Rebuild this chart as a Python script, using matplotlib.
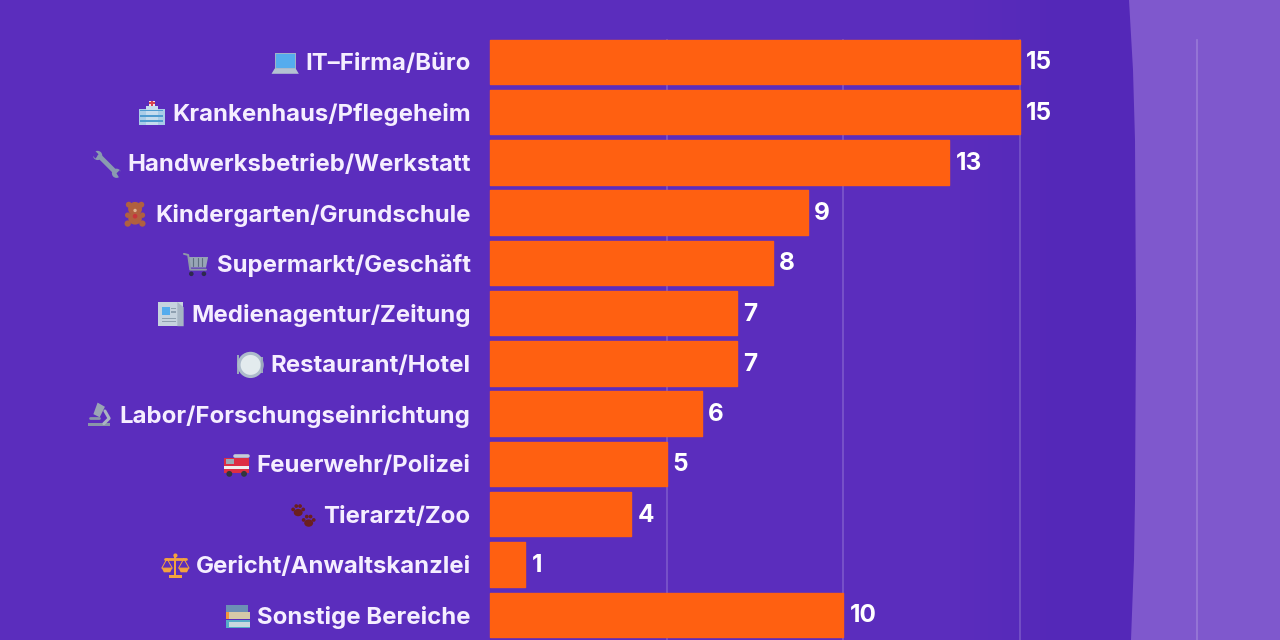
import matplotlib
matplotlib.use("Agg")
import matplotlib.pyplot as plt
import numpy as np
from matplotlib.patches import Polygon, Rectangle, Circle, Ellipse
from matplotlib.lines import Line2D
from matplotlib.transforms import Affine2D

W, H = 1280, 640
BG = "#5B2DBD"
BG_DARK = "#5428B8"
PANEL = "#7F58CD"
ORANGE = "#FF6011"
LABEL = "#F5EEFF"

categories = [
    "IT–Firma/Büro", "Krankenhaus/Pflegeheim", "Handwerksbetrieb/Werkstatt",
    "Kindergarten/Grundschule", "Supermarkt/Geschäft", "Medienagentur/Zeitung",
    "Restaurant/Hotel", "Labor/Forschungseinrichtung", "Feuerwehr/Polizei",
    "Tierarzt/Zoo", "Gericht/Anwaltskanzlei", "Sonstige Bereiche",
]
values = [15, 15, 13, 9, 8, 7, 7, 6, 5, 4, 1, 10]
x_ticks = [5, 10, 15, 20]
icon_names = ["laptop", "hospital", "wrench", "bear", "cart", "news",
              "plate", "microscope", "engine", "paws", "scales", "books"]

plt.rcParams["font.family"] = ["Inter", "Open Sans", "DejaVu Sans"]
fig = plt.figure(figsize=(W / 100, H / 100), dpi=100, facecolor=BG)

# Backdrop darkens gently towards the pale panel
back = fig.add_axes([0, 0, 1, 1], zorder=-10)
ramp = np.clip((np.linspace(0, W, 640) - 960) / 100, 0, 1)[None, :, None]
c0 = np.array(matplotlib.colors.to_rgb(BG))[None, None, :]
c1 = np.array(matplotlib.colors.to_rgb(BG_DARK))[None, None, :]
back.imshow(c0 * (1 - ramp) + c1 * ramp, extent=(0, 1, 0, 1), aspect="auto")
back.axis("off")

# Pale panel on the right, with its slightly bowed left edge
edge = [(1129, 0), (1133, 70), (1135, 140), (1136, 320), (1135, 500), (1134, 560), (1131, 640)]
panel = [(x / W, 1 - y / H) for x, y in edge] + [(1, 0), (1, 1)]
back.add_patch(Polygon(panel, closed=True, transform=fig.transFigure, fc=PANEL, ec="none", zorder=5))

BAND = 50.27
ax = fig.add_axes([490 / W, 0, (1196.5 - 490) / W, 600 / H], facecolor="none")
y_pos = list(range(len(categories)))
bars = ax.barh(y_pos, values, height=0.885, color=ORANGE, edgecolor=ORANGE,
               linewidth=1.0, joinstyle="round", zorder=3, clip_on=False)
ax.set_xlim(0, 20)
ax.set_ylim((640 - 61.8) / BAND, -21.8 / BAND)
ax.set_xticks(x_ticks)
ax.set_yticks(y_pos, categories)
ax.tick_params(axis="x", length=0, labelbottom=False)
ax.tick_params(axis="y", length=0, pad=14)
for lab in ax.get_yticklabels():
    lab.set(color=LABEL, fontsize=17.25, fontweight="bold", ha="right")
ax.grid(axis="x", color="white", alpha=0.2, linewidth=1.2, zorder=0)
for line in ax.get_xgridlines():
    line.set_clip_on(False)
for s in ax.spines.values():
    s.set_visible(False)
value_labels = ax.bar_label(bars, labels=[str(v) for v in values], padding=4.5, color="white",
                            fontsize=17.5, fontweight="bold")
# Nudge the value labels down to sit on the bar's optical centre
for t in value_labels:
    t.xyann = (t.xyann[0], t.xyann[1] - 0.7)


def add_icon(name, cx, cy, s=1.0):
    """Draw a small pictogram centred on a display position (units are pixels, y up)."""
    tr = Affine2D().scale(s).translate(cx, cy)
    def P(a):
        a.set_transform(tr)
        a.set_clip_on(False)
        fig.add_artist(a)
    def poly(pts, c, **kw):
        P(Polygon(pts, closed=True, fc=c, ec="none", **kw))
    def rect(x, y, w, h, c):
        P(Rectangle((x, y), w, h, fc=c, ec="none"))
    def circ(x, y, r, c):
        P(Circle((x, y), r, fc=c, ec="none"))
    def line(xs, ys, c, lw):
        P(Line2D(xs, ys, color=c, lw=lw, solid_capstyle="round"))

    if name == "laptop":
        rect(-10, -5, 20, 15, "#9FB2C8")
        rect(-9, -4, 18, 13, "#55ACEE")
        poly([(-10, -5), (10, -5), (13, -10), (-13, -10)], "#B4C2D2")
    elif name == "hospital":
        rect(-12, -11, 24, 15, "#A9CDE8")
        rect(-6, -11, 12, 18, "#C5DCEE")
        rect(-3, 7, 6, 5, "#F1E5E5")
        rect(-1, 7.5, 2, 4.5, "#D9434E")
        rect(-2.5, 9, 5, 1.6, "#D9434E")
        for yy in (-8, -3, 2):
            rect(-11, yy, 22, 1.5, "#4F9BD0")
    elif name == "wrench":
        line([-7, 7], [7, -7], "#8A9BB0", 3.4)
        circ(-9, 8, 4.4, "#8A9BB0")
        circ(9, -9, 4.4, "#8A9BB0")
        poly([(-12, 13), (-8, 9), (-11, 5), (-15, 9)], BG)
        poly([(12, -14), (9, -9), (12, -6), (16, -10)], BG)
    elif name == "bear":
        col = "#B0603F"
        circ(-6, 9, 2.8, col)
        circ(6, 9, 2.8, col)
        circ(0, 5, 6.6, col)
        P(Ellipse((0, -4), 13, 12, fc=col, ec="none"))
        circ(-7, -9, 3, col)
        circ(7, -9, 3, col)
        circ(-7, -1, 2.6, col)
        circ(7, -1, 2.6, col)
        circ(0, -2, 2.2, "#C8343B")
        circ(0, 3.5, 1.6, "#E0B493")
    elif name == "cart":
        line([-12, -8, -6, 9], [10, 9, -5, -5], "#8E99A8", 1.4)
        poly([(-8, 7), (11, 7), (9, -3), (-6.5, -3)], "#98A6B6")
        for xx in (-3, 1, 5):
            line([xx, xx], [6, -2], "#5F6E80", 0.8)
        circ(-5, -9, 2.2, "#2E2A4D")
        circ(7, -9, 2.2, "#2E2A4D")
    elif name == "news":
        rect(-12, -11, 23, 23, "#C6D3DE")
        poly([(6, 12), (12, 7), (12, -11), (6, -11)], "#A7B6C4")
        rect(-9, 0, 8, 7, "#55ACEE")
        for yy in (-4, -7):
            rect(-9, yy, 14, 1.2, "#8FA0B0")
        for yy in (2, 5):
            rect(0, yy, 5, 1.2, "#8FA0B0")
    elif name == "plate":
        rect(-13, -9, 2, 18, "#9AA8BC")
        circ(0, 0, 12.5, "#AEBCCB")
        circ(0, 0, 9.5, "#E3EBEE")
        rect(10, -8, 2, 16, "#9AA8BC")
    elif name == "microscope":
        rect(-11, -10, 21, 3, "#8A96A8")
        poly([(-2, 12), (5, 8), (0, -2), (-6, 1)], "#9AA5B5")
        line([-9, -1], [-3, -3], "#8A96A8", 2)
        line([5, 9, 4], [4, -3, -8], "#AAB4C2", 2.2)
    elif name == "engine":
        rect(-12, -7, 24, 14, "#DD2E44")
        rect(-12, -3, 24, 2.5, "#EFEFEF")
        rect(-10, 1, 7, 5, "#99AAB5")
        line([-2, 11], [9, 9], "#C5CDD5", 2.6)
        circ(-7, -8, 2.8, "#31373D")
        circ(7, -8, 2.8, "#31373D")
    elif name == "paws":
        for ox, oy in ((-5, 5), (5, -5)):
            P(Ellipse((ox, oy - 2), 8.5, 7, fc="#6B1F1F", ec="none"))
            for dx, dy in ((-4.8, 1), (-1.8, 4.2), (1.8, 4.2), (4.8, 1)):
                circ(ox + dx, oy + dy, 1.8, "#6B1F1F")
    elif name == "scales":
        col = "#F4A23E"
        rect(-1, -9, 2, 19, col)
        rect(-6, -11, 12, 2.4, col)
        line([-10, 10], [7, 7], col, 2)
        circ(0, 10, 2, col)
        poly([(-13, -2), (-3, -2), (-5, -6), (-11, -6)], col)
        poly([(3, -2), (13, -2), (11, -6), (5, -6)], col)
        line([-8, -13, -3, -8], [7, -2, -2, 7], col, 0.7)
        line([8, 3, 13, 8], [7, -2, -2, 7], col, 0.7)
    elif name == "books":
        rect(-11, 4, 21, 7, "#6C8FB5")
        rect(-11, -3, 23, 7, "#F4973B")
        rect(-8, -3, 20, 7, "#D6C9A8")
        rect(-11, -11, 23, 7, "#55ACC8")
        rect(-8, -10, 20, 5, "#C8D8DE")


# Pictograms sit just to the left of each category label
fig.canvas.draw()
renderer = fig.canvas.get_renderer()
for lab, name in zip(ax.get_yticklabels(), icon_names):
    bb = lab.get_window_extent(renderer)
    add_icon(name, bb.x0 - 20, (bb.y0 + bb.y1) / 2 + 1, s=1.05)

fig.savefig("out.png", dpi=100, facecolor=BG)
